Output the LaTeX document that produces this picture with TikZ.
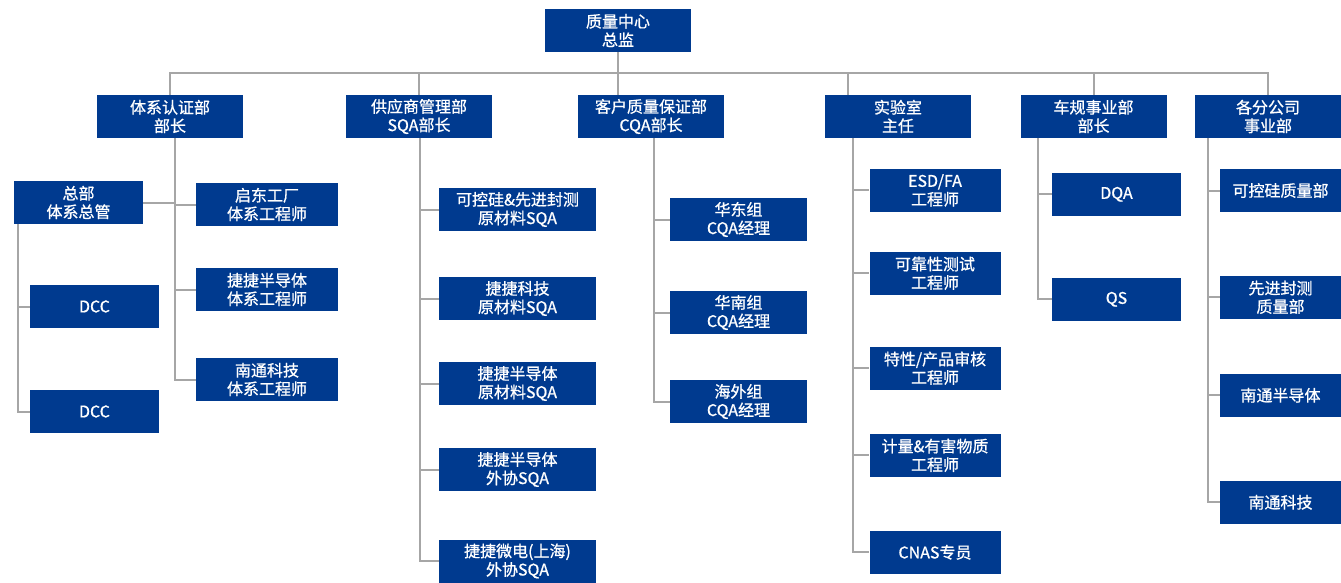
\documentclass[tikz,border=0pt]{standalone}
\usepackage{fontspec}
\newfontfamily\cjk[FakeBold=0.8]{Noto Sans CJK SC}
\usetikzlibrary{backgrounds}
\definecolor{boxblue}{RGB}{0,58,143}
\definecolor{linegray}{RGB}{166,166,166}
\begin{document}
\begin{tikzpicture}[x=1pt,y=-1pt,
  box/.style={fill=boxblue, text=white, align=center, inner sep=0pt,
    font=\cjk\fontsize{16}{18.5}\selectfont, minimum height=43pt},
  conn/.style={draw=linegray, line width=2pt}]
\useasboundingbox (0,0) rectangle (1341,582);
% root and level 1
\node[box, minimum width=146pt] (root) at (618,30.5) {质量中心\\总监};
\node[box, minimum width=146pt] (tixi) at (170,116.5) {体系认证部\\部长};
\node[box, minimum width=146pt] (gys) at (419,116.5) {供应商管理部\\SQA部长};
\node[box, minimum width=146pt] (kh) at (651,116.5) {客户质量保证部\\CQA部长};
\node[box, minimum width=146pt] (lab) at (898,116.5) {实验室\\主任};
\node[box, minimum width=146pt] (cg) at (1093.5,116.5) {车规事业部\\部长};
\node[box, minimum width=146pt] (gf) at (1268,116.5) {各分公司\\事业部};
% tixi subtree
\node[box, minimum width=129pt] (zongbu) at (78.5,202.5) {总部\\体系总管};
\node[box, minimum width=129pt] (dcc1) at (94.5,306.5) {DCC};
\node[box, minimum width=129pt] (dcc2) at (94.5,411.5) {DCC};
\node[box, minimum width=142pt] (qidong) at (267,204.5) {启东工厂\\体系工程师};
\node[box, minimum width=142pt] (jjbdt) at (267,289.5) {捷捷半导体\\体系工程师};
\node[box, minimum width=142pt] (ntkj) at (267,379.5) {南通科技\\体系工程师};
% gys subtree
\node[box, minimum width=157pt] (s1) at (517.5,209.5) {可控硅\&先进封测\\原材料SQA};
\node[box, minimum width=157pt] (s2) at (517.5,298.5) {捷捷科技\\原材料SQA};
\node[box, minimum width=157pt] (s3) at (517.5,383.5) {捷捷半导体\\原材料SQA};
\node[box, minimum width=157pt] (s4) at (517.5,469.5) {捷捷半导体\\外协SQA};
\node[box, minimum width=157pt] (s5) at (517.5,561) {捷捷微电(上海)\\外协SQA};
% kh subtree
\node[box, minimum width=137pt] (c1) at (738.5,219.5) {华东组\\CQA经理};
\node[box, minimum width=137pt] (c2) at (738.5,312.5) {华南组\\CQA经理};
\node[box, minimum width=137pt] (c3) at (738.5,401.5) {海外组\\CQA经理};
% lab subtree
\node[box, minimum width=131pt] (l1) at (935,190.3) {ESD/FA\\工程师};
\node[box, minimum width=131pt] (l2) at (935,273.3) {可靠性测试\\工程师};
\node[box, minimum width=131pt] (l3) at (935,368.2) {特性/产品审核\\工程师};
\node[box, minimum width=131pt] (l4) at (935,455.3) {计量\&有害物质\\工程师};
\node[box, minimum width=131pt] (l5) at (935,552.3) {CNAS专员};
% cg subtree
\node[box, minimum width=129pt] (d1) at (1116.5,194.3) {DQA};
\node[box, minimum width=129pt] (d2) at (1116.5,299.3) {QS};
% gf subtree
\node[box, minimum width=121pt] (g1) at (1280.5,190.5) {可控硅质量部};
\node[box, minimum width=121pt] (g2) at (1280.5,297.3) {先进封测\\质量部};
\node[box, minimum width=121pt] (g3) at (1280.5,395.3) {南通半导体};
\node[box, minimum width=121pt] (g4) at (1280.5,502.3) {南通科技};
% connectors
\begin{scope}[on background layer]
\coordinate (bus) at (618,73);
\draw[conn] (root.south) -- (root.south |- kh.north);
\draw[conn] (tixi.north) -- (tixi.north |- bus) -- (gf.north |- bus) -- (gf.north);
\draw[conn] (gys.north) -- (gys.north |- bus);
\draw[conn] (cg.north) -- (cg.north |- bus);
\draw[conn] ([xshift=-50pt]lab.north) -- ([xshift=-50pt]lab.north |- bus);
% tixi
\coordinate (tS) at (175,0);
\draw[conn] (tixi.south -| tS) |- (ntkj.west);
\foreach \n in {qidong,jjbdt} \draw[conn] (tS |- \n.west) -- (\n.west);
\draw[conn] (zongbu.east) -- (tS |- zongbu.east);
\coordinate (zS) at (18,0);
\draw[conn] (zongbu.south -| zS) |- (dcc2.west);
\draw[conn] (zS |- dcc1.west) -- (dcc1.west);
% gys
\coordinate (gS) at (420,0);
\draw[conn] (gys.south -| gS) |- (s5.west);
\foreach \n in {s1,s2,s3,s4} \draw[conn] (gS |- \n.west) -- (\n.west);
% kh
\coordinate (kS) at (653.5,0);
\draw[conn] (kh.south -| kS) |- (c3.west);
\foreach \n in {c1,c2} \draw[conn] (kS |- \n.west) -- (\n.west);
% lab
\coordinate (lS) at (852.5,0);
\draw[conn] (lab.south -| lS) |- (l5.west);
\foreach \n in {l1,l2,l3,l4} \draw[conn] (lS |- \n.west) -- (\n.west);
% cg
\coordinate (cS) at (1038,0);
\draw[conn] (cg.south -| cS) |- (d2.west);
\draw[conn] (cS |- d1.west) -- (d1.west);
% gf
\coordinate (fS) at (1207.5,0);
\draw[conn] (gf.south -| fS) |- (g4.west);
\foreach \n in {g1,g2,g3} \draw[conn] (fS |- \n.west) -- (\n.west);
\end{scope}
\end{tikzpicture}
\end{document}
